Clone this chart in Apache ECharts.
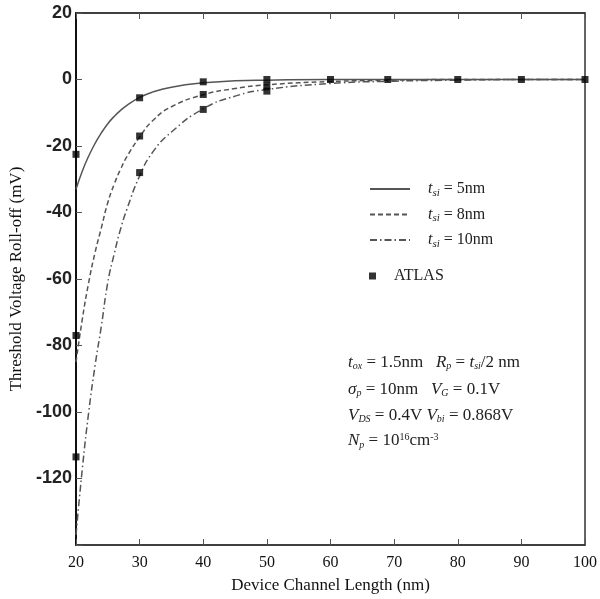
<!DOCTYPE html>
<html>
<head>
<meta charset="utf-8">
<script src="https://cdn.jsdelivr.net/npm/echarts@6/dist/echarts.min.js"></script>
<style>
  html, body { margin: 0; padding: 0; background: #fff; }
  #main { width: 600px; height: 599px; }
</style>
</head>
<body>
<div id="main"></div>
<script>
// model curves
var curveX = [20, 21, 22, 23, 24, 25, 26, 27, 28, 30, 32, 35, 40, 45, 50, 60, 70, 80, 90, 100];
var curve5 = [-33, -27.5, -23, -19.2, -16, -13.3, -11.1, -9.3, -7.8, -5.4, -3.8, -2.3, -1.0, -0.4, -0.2, 0, 0, 0, 0, 0];
var curve8 = [-85, -72, -61, -52, -44.5, -37, -31.5, -27, -23.2, -17.3, -12.5, -8.2, -4.6, -2.7, -1.6, -0.6, -0.2, 0, 0, 0];
var curve10 = [-137, -117, -100, -86, -74, -61, -52.5, -45, -39, -29, -22, -15.8, -8.8, -5, -3, -1.2, -0.5, -0.2, 0, 0];

// ATLAS simulation points
var atlasX5 = [20, 30, 40, 50, 60, 69, 80, 90, 100];
var atlas5 = [-22.5, -5.5, -0.7, 0, 0, 0, 0, 0, 0];
var atlasX8 = [20, 30, 40, 50];
var atlas8 = [-77, -17, -4.5, -2];
var atlasX10 = [20, 30, 40, 50];
var atlas10 = [-113.5, -28, -9, -3.5];

function pairs(xs, ys) {
    var out = [];
    for (var i = 0; i < ys.length; i++) out.push([xs[i], ys[i]]);
    return out;
}

var atlasData = pairs(atlasX5, atlas5).concat(pairs(atlasX8, atlas8), pairs(atlasX10, atlas10));

var serif = '"Liberation Serif", "DejaVu Serif", serif';
var sans = '"Liberation Sans", Arial, sans-serif';
var lineColor = '#555';
var hideSym = {opacity: 0};

var mChart = echarts.init(document.getElementById('main'));

var option = {
    animation: false,
    backgroundColor: '#fff',
    grid: {
        left: 76, top: 13, right: 12, bottom: 54,
        show: true, borderColor: '#333', borderWidth: 1.5
    },
    legend: [{
        orient: 'vertical',
        left: 364,
        top: 176,
        itemWidth: 40,
        itemHeight: 14,
        itemGap: 8,
        data: [
            {name: '5nm', itemStyle: hideSym},
            {name: '8nm', itemStyle: hideSym},
            {name: '10nm', itemStyle: hideSym}
        ],
        formatter: function (name) {
            return '{t|t}{s|si}{n| = ' + name + '}';
        },
        textStyle: {
            fontFamily: serif,
            fontSize: 16,
            color: '#222',
            rich: {
                t: {fontFamily: serif, fontSize: 16, fontStyle: 'italic', color: '#222', padding: [0, 0, 0, 13]},
                s: {fontFamily: serif, fontSize: 11, fontStyle: 'italic', color: '#222', padding: [8, 0, 0, 0]},
                n: {fontFamily: serif, fontSize: 16, color: '#222'}
            }
        }
    }, {
        orient: 'vertical',
        left: 364,
        top: 263,
        itemWidth: 7,
        itemHeight: 7,
        data: [{name: 'ATLAS', icon: 'rect', itemStyle: {color: '#000'}}],
        formatter: '{a|{name}}',
        textStyle: {
            fontFamily: serif,
            fontSize: 16,
            color: '#222',
            rich: {
                a: {fontFamily: serif, fontSize: 16, color: '#222', padding: [0, 0, 0, 13]}
            }
        }
    }],
    xAxis: [{
        type: 'value',
        min: 20, max: 100, interval: 10,
        name: 'Device Channel Length (nm)',
        nameLocation: 'middle',
        nameGap: 32,
        nameTextStyle: {fontFamily: serif, fontSize: 17, color: '#111'},
        axisLine: {show: true, onZero: false, lineStyle: {color: '#333', width: 1.5}},
        axisTick: {show: true, inside: true, length: 6, lineStyle: {color: '#555'}},
        axisLabel: {fontFamily: serif, fontSize: 16, color: '#111', margin: 10},
        splitLine: {show: false}
    }, {
        type: 'value',
        position: 'top',
        min: 20, max: 100, interval: 10,
        axisLine: {show: true, onZero: false, lineStyle: {color: '#333', width: 1.5}},
        axisTick: {show: true, inside: true, length: 6, lineStyle: {color: '#555'}},
        axisLabel: {show: false},
        splitLine: {show: false}
    }],
    yAxis: {
        type: 'value',
        min: -140, max: 20, interval: 20,
        name: 'Threshold Voltage Roll-off (mV)',
        nameLocation: 'middle',
        nameGap: 42,
        nameTextStyle: {fontFamily: serif, fontSize: 17, color: '#111'},
        axisLine: {show: true, onZero: false, lineStyle: {color: '#111', width: 2}},
        axisTick: {show: true, inside: true, length: 6, lineStyle: {color: '#555'}},
        axisLabel: {
            fontFamily: sans, fontSize: 18, fontWeight: 'bold', color: '#222', margin: 4,
            formatter: function (v) { return v === -140 ? '' : v; }
        },
        splitLine: {show: false}
    },
    graphic: [
        {type: 'text', left: 348, top: 354, style: {
            text: '{i|t}{s|ox}{n| = 1.5nm   }{i|R}{s|p}{n| = }{i|t}{s|si}{n|/2 nm}'
        }},
        {type: 'text', left: 348, top: 381, style: {
            text: '{i|σ}{s|p}{n| = 10nm   }{i|V}{s|G}{n| = 0.1V}'
        }},
        {type: 'text', left: 348, top: 407, style: {
            text: '{i|V}{s|DS}{n| = 0.4V }{i|V}{s|bi}{n| = 0.868V}'
        }},
        {type: 'text', left: 348, top: 432, style: {
            text: '{i|N}{s|p}{n| = 10}{u|16}{n|cm}{u|-3}'
        }}
    ],
    series: [{
        name: '5nm',
        type: 'line',
        data: pairs(curveX, curve5),
        smooth: true,
        symbol: 'none',
        lineStyle: {color: lineColor, width: 1.5, type: 'solid'},
        itemStyle: {color: lineColor}
    }, {
        name: '8nm',
        type: 'line',
        data: pairs(curveX, curve8),
        smooth: true,
        symbol: 'none',
        lineStyle: {color: lineColor, width: 1.5, type: [5, 3]},
        itemStyle: {color: lineColor}
    }, {
        name: '10nm',
        type: 'line',
        data: pairs(curveX, curve10),
        smooth: true,
        symbol: 'none',
        lineStyle: {color: lineColor, width: 1.5, type: [7, 3, 1.5, 3]},
        itemStyle: {color: lineColor}
    }, {
        name: 'ATLAS',
        type: 'scatter',
        data: atlasData,
        symbol: 'rect',
        symbolSize: 7,
        itemStyle: {color: '#000'},
        z: 5
    }]
};

var annRich = {
    i: {fontFamily: serif, fontSize: 17, fontStyle: 'italic', fill: '#222'},
    s: {fontFamily: serif, fontSize: 10, fontStyle: 'italic', fill: '#222', padding: [8, 0, 0, 0]},
    n: {fontFamily: serif, fontSize: 17, fill: '#222'},
    u: {fontFamily: serif, fontSize: 10, fill: '#222', padding: [0, 0, 8, 0]}
};
option.graphic.forEach(function (g) {
    g.style.rich = annRich;
    g.style.fontFamily = serif;
    g.style.fontSize = 17;
    g.style.fill = '#222';
});

mChart.setOption(option);
</script>
</body>
</html>
